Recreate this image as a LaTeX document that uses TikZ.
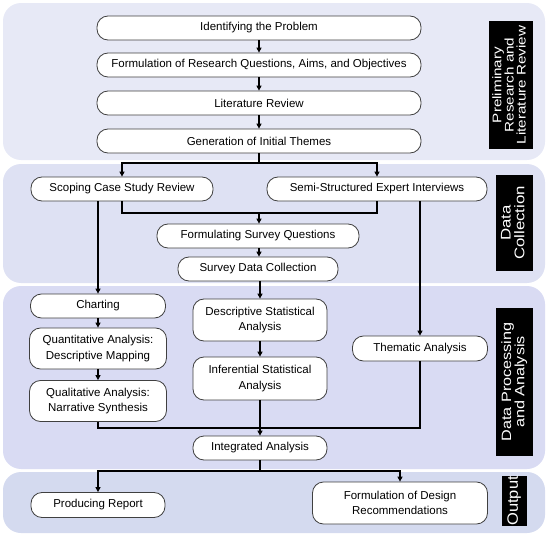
\documentclass[tikz,border=0pt]{standalone}
\usepackage{fontspec}
\setmainfont{Liberation Sans}
\usetikzlibrary{arrows.meta}
\definecolor{bandA}{HTML}{E7E9F6}
\definecolor{bandB}{HTML}{DEE1F3}
\definecolor{bandC}{HTML}{D9DBF3}
\definecolor{bandD}{HTML}{D4DAEF}
\newcommand{\labtext}[4]{\fontsize{#1}{#2}\selectfont\scalebox{#3}[1]{\begin{tabular}{@{}c@{}}#4\end{tabular}}}
\begin{document}
\begin{tikzpicture}[x=1pt,y=-1pt,
 band/.style={rounded corners=18pt},
 box/.style={draw=black!75, line width=0.8pt, fill=white, rounded corners=11pt, inner sep=0pt, align=center, font=\fontsize{11.5}{15.5}\selectfont, minimum height=24pt},
 lab/.style={fill=black, text=white, rotate=90, inner sep=0pt, align=center},
 conn/.style={line width=1.1pt, black},
 arr/.style={conn, -{Triangle[width=5pt,length=5pt]}}]
\useasboundingbox (0,0) rectangle (550,538);
% bands
\fill[bandA, band] (3,3) rectangle (545,160);
\fill[bandB, band] (3,164) rectangle (545,283);
\fill[bandC, band] (3,286) rectangle (545,469);
\fill[bandD, band] (3,472) rectangle (545,533);
% side labels
\node[lab, minimum width=128pt, minimum height=44pt] (L1) at (510.5,85) {\labtext{12.5}{10}{1.22}{Preliminary\\Research and\\Literature Review}};
\node[lab, minimum width=96pt, minimum height=37pt] (L2) at (514.5,223) {\labtext{14}{12}{1.2}{Data\\Collection}};
\node[lab, minimum width=148pt, minimum height=37pt] (L3) at (514.5,382) {\labtext{13.5}{11}{1.2}{Data Processing\\and Analysis}};
\node[lab, minimum width=50pt, minimum height=25pt] (L4) at (514.5,501) {\labtext{15}{13}{1.1}{Output}};
% boxes
\node[box, minimum width=324pt] (n1) at (259,28) {Identifying the Problem};
\node[box, minimum width=324pt] (n2) at (259,65) {Formulation of Research Questions, Aims, and Objectives};
\node[box, minimum width=324pt] (n3) at (259,103) {Literature Review};
\node[box, minimum width=324pt] (n4) at (259,141) {Generation of Initial Themes};
\node[box, minimum width=182pt] (s1) at (122,189) {Scoping Case Study Review};
\node[box, minimum width=220pt] (s2) at (377,189) {Semi-Structured Expert Interviews};
\node[box, minimum width=202pt] (f1) at (258,236) {Formulating Survey Questions};
\node[box, minimum width=160pt] (f2) at (258,269) {Survey Data Collection};
\node[box, minimum width=135pt] (c1) at (98,306) {Charting};
\node[box, minimum width=137pt, minimum height=41pt] (c2) at (98,348.5) {Quantitative Analysis:\\Descriptive Mapping};
\node[box, minimum width=137pt, minimum height=41pt] (c3) at (98,401) {Qualitative Analysis:\\Narrative Synthesis};
\node[box, minimum width=134pt, minimum height=42pt] (d1) at (260,320) {Descriptive Statistical\\Analysis};
\node[box, minimum width=134pt, minimum height=43pt] (d2) at (260,378.5) {Inferential Statistical\\Analysis};
\node[box, minimum width=135pt, minimum height=25pt] (t1) at (420,348.5) {Thematic Analysis};
\node[box, minimum width=134pt] (ia) at (260,448) {Integrated Analysis};
\node[box, minimum width=134pt, minimum height=25pt] (o1) at (98,505) {Producing Report};
\node[box, minimum width=175pt, minimum height=42pt] (o2) at (400,503) {Formulation of Design\\Recommendations};
% connectors
\draw[arr] (n1) -- (n2);
\draw[arr] (n2) -- (n3);
\draw[arr] (n3) -- (n4);
\coordinate (sp1) at (259,163);
\draw[conn] (n4.south) -- (sp1);
\draw[arr] (sp1) -| (s1.north);
\draw[arr] (sp1) -| (s2.north);
\coordinate (j1) at (259,213);
\draw[conn] (s1.south) |- (j1) -| (s2.south);
\draw[arr] (j1) -- (j1 |- f1.north);
\draw[arr] (f1.south -| j1) -- (f2.north -| j1);
\draw[arr] (f2.south -| d1) -- (d1.north);
\draw[arr] (c1.north |- s1.south) -- (c1.north);
\draw[arr] (t1.north |- s2.south) -- (t1.north);
\draw[arr] (c1) -- (c2);
\draw[arr] (c2) -- (c3);
\draw[arr] (d1) -- (d2);
\coordinate (j2) at (260,428);
\draw[conn] (c3.south) |- (j2) -| (t1.south);
\draw[arr] (d2.south) -- (ia.north);
\coordinate (sp2) at (260,471);
\draw[conn] (ia.south) -- (sp2);
\draw[arr] (sp2) -| (o1.north);
\draw[arr] (sp2) -| (o2.north);
\end{tikzpicture}
\end{document}
